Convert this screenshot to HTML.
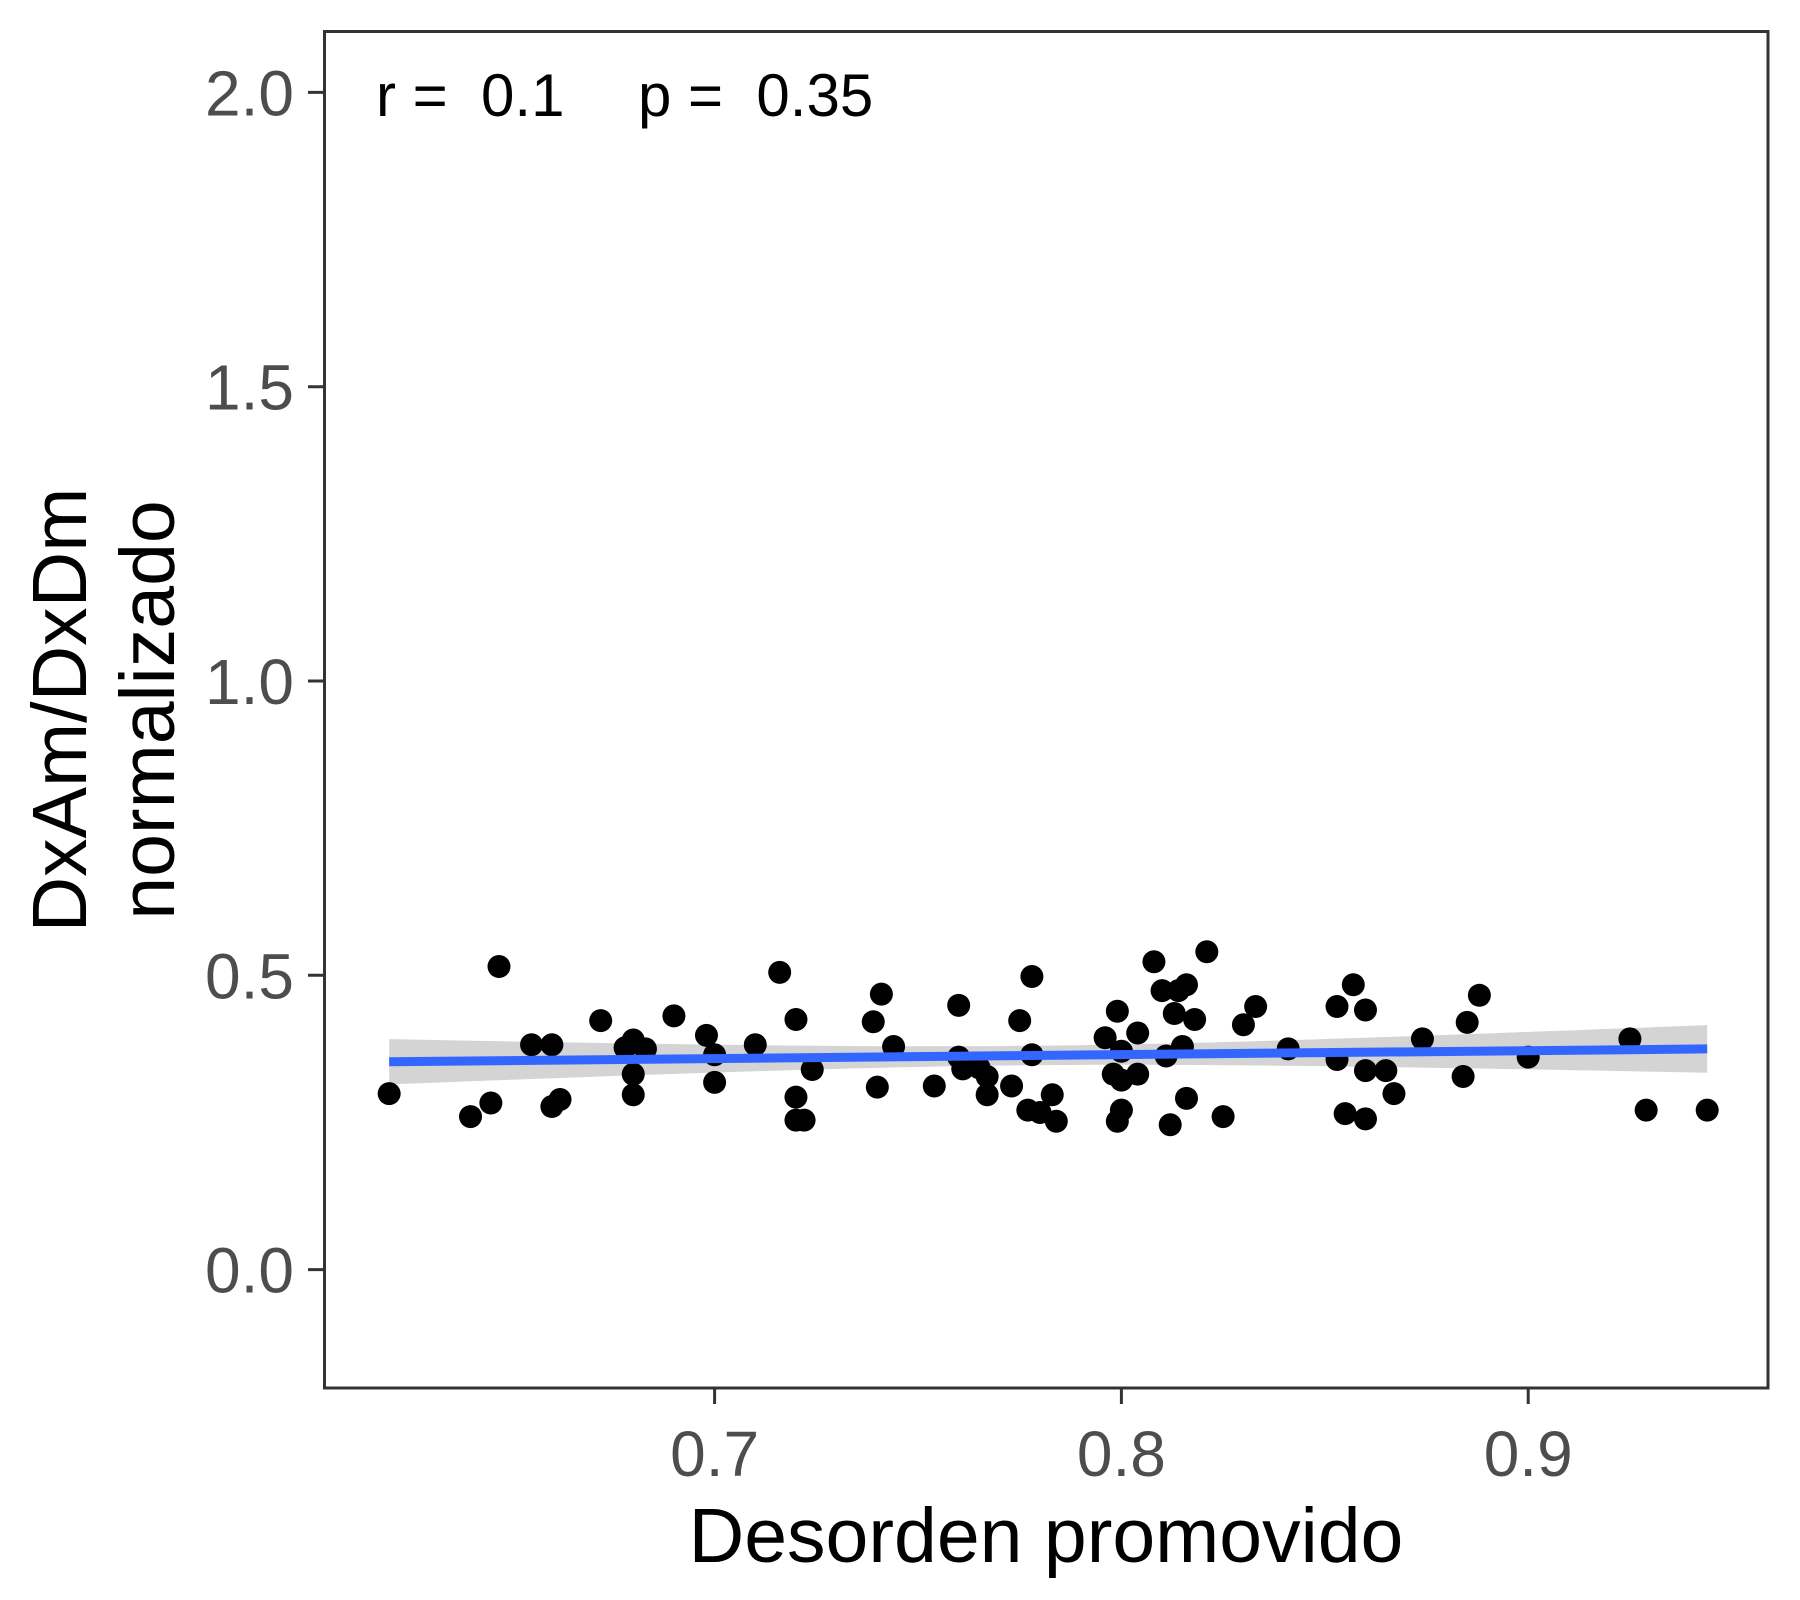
<!DOCTYPE html>
<html><head><meta charset="utf-8"><style>
html,body{margin:0;padding:0;background:#fff;}
svg{display:block;font-family:"Liberation Sans",Arial,sans-serif;}
</style></head><body>
<svg id="chart" width="1800" height="1600" viewBox="0 0 1800 1600" xmlns="http://www.w3.org/2000/svg">
<rect x="0" y="0" width="1800" height="1600" fill="#fff"/>
<g id="band"></g>
<g id="points"></g>
<g id="fit"></g>
<rect x="324.5" y="31.5" width="1443.5" height="1356.5" fill="none" stroke="#333" stroke-width="3"/>
<g id="yaxis"></g>
<g id="xaxis"></g>
<text x="1046" y="1562" font-size="77" text-anchor="middle" fill="#000">Desorden promovido</text>
<g transform="translate(86,710) rotate(-90)">
<text x="0" y="0" font-size="77" text-anchor="middle" fill="#000">DxAm/DxDm</text>
<text x="0" y="88" font-size="77" text-anchor="middle" fill="#000">normalizado</text>
</g>
<text x="376" y="116" font-size="60" fill="#000" xml:space="preserve">r =  0.1</text>
<text x="638" y="116" font-size="60" fill="#000" xml:space="preserve">p =  0.35</text>
</svg>
<script>
const xVals = [0.620,0.640,0.645,0.647,0.655,0.660,0.660,0.662,0.672,0.678,0.680,0.680,0.680,0.683,0.690,0.698,0.700,0.700,0.710,0.716,0.720,0.720,0.720,0.722,0.724,0.739,0.740,0.741,0.744,0.754,0.760,0.760,0.761,0.765,0.767,0.767,0.773,0.775,0.777,0.778,0.778,0.780,0.783,0.784,0.796,0.798,0.799,0.799,0.800,0.800,0.800,0.804,0.804,0.808,0.810,0.811,0.812,0.813,0.814,0.815,0.816,0.816,0.818,0.821,0.825,0.830,0.833,0.841,0.853,0.853,0.855,0.857,0.860,0.860,0.860,0.865,0.867,0.874,0.884,0.885,0.888,0.900,0.925,0.929,0.944];
const yVals = [0.299,0.260,0.283,0.515,0.382,0.382,0.277,0.289,0.423,0.377,0.390,0.332,0.297,0.375,0.431,0.398,0.365,0.318,0.382,0.505,0.425,0.293,0.254,0.254,0.340,0.421,0.310,0.468,0.379,0.312,0.449,0.361,0.341,0.343,0.328,0.297,0.312,0.423,0.271,0.498,0.365,0.267,0.297,0.252,0.394,0.332,0.439,0.252,0.371,0.322,0.271,0.402,0.332,0.523,0.474,0.363,0.246,0.435,0.474,0.379,0.484,0.291,0.425,0.540,0.260,0.416,0.447,0.375,0.447,0.357,0.265,0.484,0.441,0.338,0.256,0.338,0.299,0.392,0.328,0.420,0.466,0.361,0.392,0.271,0.271];
const yTicks = [0.0,0.5,1.0,1.5,2.0];
const yTickLabels = ["0.0","0.5","1.0","1.5","2.0"];
const xTicks = [0.7,0.8,0.9];
const xTickLabels = ["0.7","0.8","0.9"];

const NS = "http://www.w3.org/2000/svg";
function X(v){ return 714.6 + (v - 0.7) * 4068; }
function Y(v){ return 1269.6 - v * 588.6; }
function mk(tag, attrs, parent){
  const e = document.createElementNS(NS, tag);
  for (const k in attrs) e.setAttribute(k, attrs[k]);
  parent.appendChild(e);
  return e;
}

const ya = document.getElementById('yaxis');
yTicks.forEach((t, i) => {
  const ln = mk('line', {x1: 308, x2: 324.5, y1: Y(t), y2: Y(t), stroke: '#333', 'stroke-width': 3}, ya);
  
  
  const tx = mk('text', {x: 294, y: Y(t) + 23, 'font-size': 64, 'text-anchor': 'end', fill: '#4D4D4D'}, ya);
  tx.textContent = yTickLabels[i];
  
  
});
const xa = document.getElementById('xaxis');
xTicks.forEach((t, i) => {
  const ln = mk('line', {x1: X(t), x2: X(t), y1: 1388, y2: 1404, stroke: '#333', 'stroke-width': 3}, xa);
  
  
  const tx = mk('text', {x: X(t), y: 1476, 'font-size': 64, 'text-anchor': 'middle', fill: '#4D4D4D'}, xa);
  tx.textContent = xTickLabels[i];
  
  
});

const n = xVals.length;
const mx = xVals.reduce((a,b)=>a+b,0)/n;
const my = yVals.reduce((a,b)=>a+b,0)/n;
let sxx = 0, sxy = 0;
for (let i = 0; i < n; i++){ sxx += (xVals[i]-mx)**2; sxy += (xVals[i]-mx)*(yVals[i]-my); }
const b = sxy / sxx, a = my - b * mx;
let sse = 0;
for (let i = 0; i < n; i++){ sse += (yVals[i] - (a + b*xVals[i]))**2; }
const s = Math.sqrt(sse / (n - 2));
const xmin = Math.min(...xVals), xmax = Math.max(...xVals);
const up = [], lo = [];
for (let k = 0; k <= 80; k++){
  const xv = xmin + (xmax - xmin) * k / 80;
  const fit = a + b * xv;
  const se = 1.99 * s * Math.sqrt(1/n + (xv-mx)**2 / sxx);
  up.push(X(xv).toFixed(1) + ',' + Y(fit + se).toFixed(1));
  lo.unshift(X(xv).toFixed(1) + ',' + Y(fit - se).toFixed(1));
}
const band = mk('polygon', {points: up.concat(lo).join(' '), fill: '#d4d4d4'}, document.getElementById('band'));



const pg = document.getElementById('points');
for (let i = 0; i < n; i++){
  const c = mk('circle', {cx: X(xVals[i]), cy: Y(yVals[i]), r: 11.5, fill: '#000'}, pg);
  
  
}
const fl = mk('line', {x1: X(xmin), y1: Y(a + b*xmin), x2: X(xmax), y2: Y(a + b*xmax), stroke: '#3366FF', 'stroke-width': 9}, document.getElementById('fit'));


</script>
</body></html>
